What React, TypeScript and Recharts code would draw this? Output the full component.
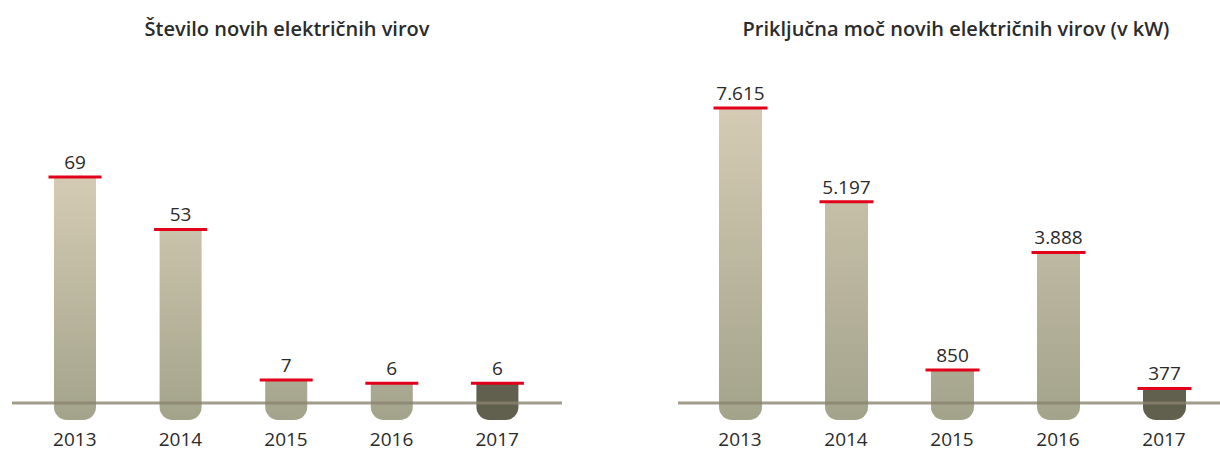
import React from "react";
import { BarChart, Bar, XAxis, YAxis, ReferenceLine, LabelList } from "recharts";

const years = ["2013", "2014", "2015", "2016", "2017"];
const countValues = [69, 53, 7, 6, 6];
const powerValues = [7615, 5197, 850, 3888, 377];

const countData = years.map((year, i) => ({ year, value: countValues[i] }));
const powerData = years.map((year, i) => ({ year, value: powerValues[i] }));

const FONT = "'Open Sans', 'Noto Sans', sans-serif";
const RED = "#e2001a";
const DARK = "#615f4e";

// thousands separator with a dot, as in the Slovenian original
const fmt = (v: any) => String(v).replace(/\B(?=(\d{3})+(?!\d))/g, ".");

// bar drawn as a tube that drops below the baseline, with a red cap on top
const TubeBar = (props: any) => {
  const { x, y, width, height, index, background, lastDark } = props;
  const drop = 17;
  const r = 13;
  const bottom = y + height + drop;
  const top = background ? background.y : y;
  const gid = `tube-${props.chartId}-${index}`;
  const d = `M${x},${y} H${x + width} V${bottom - r} A${r},${r} 0 0 1 ${x + width - r},${bottom} H${x + r} A${r},${r} 0 0 1 ${x},${bottom - r} Z`;
  const dark = lastDark && index === years.length - 1;
  return (
    <g>
      <defs>
        <linearGradient id={gid} gradientUnits="userSpaceOnUse" x1="0" y1={top} x2="0" y2={bottom}>
          <stop offset="0%" stopColor="#d5cbb4" />
          <stop offset="100%" stopColor="#a3a38b" />
        </linearGradient>
      </defs>
      <path d={d} fill={dark ? DARK : `url(#${gid})`} />
      <line x1={x - 5.5} x2={x + width + 5.5} y1={y} y2={y} stroke={RED} strokeWidth={3} />
    </g>
  );
};

type PanelProps = {
  id: string;
  title: string;
  data: { year: string; value: number }[];
  left: number;
  width: number;
  titleCenter: number;
  margin: { top: number; right: number; bottom: number; left: number };
  padding: { left: number; right: number };
  barSize: number;
};

const Panel = ({ id, title, data, left, width, titleCenter, margin, padding, barSize }: PanelProps) => (
  <>
    <div
      style={{
        position: "absolute",
        left: titleCenter - 300,
        width: 600,
        top: 17,
        textAlign: "center",
        fontFamily: FONT,
        fontWeight: 600,
        fontSize: 20,
        lineHeight: "24px",
        color: "#2b2b2b",
        whiteSpace: "nowrap",
      }}
    >
      {title}
    </div>
    <div style={{ position: "absolute", left, top: 0 }}>
      <BarChart width={width} height={451} data={data} margin={margin}>
        <XAxis
          dataKey="year"
          axisLine={false}
          tickLine={false}
          tickSize={0}
          tickMargin={30}
          height={40}
          padding={padding}
          tick={{ fill: "#2a2a2a", fontSize: 19, fontFamily: FONT }}
        />
        <YAxis hide domain={[0, "dataMax"]} />
        <Bar
          dataKey="value"
          barSize={barSize}
          isAnimationActive={false}
          shape={(p: any) => <TubeBar {...p} chartId={id} lastDark />}
        >
          <LabelList
            dataKey="value"
            position="top"
            offset={8}
            formatter={fmt}
            style={{ fill: "#2a2a2a", fontSize: 19, fontFamily: FONT }}
          />
        </Bar>
        <ReferenceLine y={0} stroke="#8a836e" strokeOpacity={0.8} strokeWidth={3} />
      </BarChart>
    </div>
  </>
);

export default function App() {
  return (
    <div style={{ position: "absolute", left: 0, top: 0, width: 1220, height: 451, background: "#fff" }}>
      <Panel
        id="count"
        title="Število novih električnih virov"
        data={countData}
        left={0}
        width={600}
        titleCenter={287}
        margin={{ top: 177, right: 38, bottom: 8, left: 12 }}
        padding={{ left: 10, right: 12 }}
        barSize={42}
      />
      <Panel
        id="power"
        title="Priključna moč novih električnih virov (v kW)"
        data={powerData}
        left={610}
        width={610}
        titleCenter={956}
        margin={{ top: 108, right: 0, bottom: 8, left: 68 }}
        padding={{ left: 9, right: 3 }}
        barSize={43}
      />
    </div>
  );
}
